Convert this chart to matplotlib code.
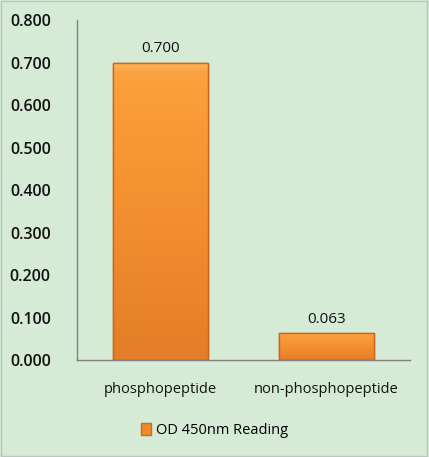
import matplotlib
matplotlib.use("Agg")
import matplotlib.pyplot as plt
import numpy as np
from matplotlib.colors import LinearSegmentedColormap
from matplotlib.patches import Patch

categories = ["phosphopeptide", "non-phosphopeptide"]
values = [0.700, 0.063]
value_labels = ["0.700", "0.063"]
yticks = [0.0, 0.1, 0.2, 0.3, 0.4, 0.5, 0.6, 0.7, 0.8]
series_name = "OD 450nm Reading"

bg = "#d5ebd6"
fig = plt.figure(figsize=(4.29, 4.57), dpi=100, facecolor=bg)
ax = fig.add_axes([0.180, 0.212, 0.775, 0.744])
ax.set_facecolor(bg)

x = np.arange(len(categories))
bars = ax.bar(x, values, width=0.57, color="#f39232", edgecolor="#cf6e1c", linewidth=1.0, zorder=2)

# vertical gradient inside each bar: light top, darker bottom
cmap = LinearSegmentedColormap.from_list("og", ["#fdb45a", "#fb9e3a", "#f59332", "#ee882e", "#e57c28"])
grad = np.concatenate([np.linspace(0, 0.15, 8), np.linspace(0.2, 1, 248)]).reshape(-1, 1)
for b in bars:
    x0, y0 = b.get_x(), b.get_y()
    w, h = b.get_width(), b.get_height()
    im = ax.imshow(grad, extent=[x0, x0 + w, y0, y0 + h], aspect="auto", cmap=cmap,
                   vmin=0, vmax=1, zorder=2.5, interpolation="bilinear", origin="upper")
    im.set_clip_path(b)
for b in bars:
    ax.bar(b.get_x() + b.get_width() / 2, b.get_height(), width=b.get_width(), fill=False,
           edgecolor="#c9661a", linewidth=1.0, zorder=3)

txt_family = ["Open Sans", "DejaVu Sans"]
for xi, v, lab in zip(x, values, value_labels):
    ax.text(xi, v + 0.016, lab, ha="center", va="bottom", fontsize=11, color="#111111",
            family=txt_family)

ax.set_xlim(-0.5, 1.5)
ax.set_ylim(0, 0.8)
ax.set_yticks(yticks)
ax.set_yticklabels([f"{t:.3f}" for t in yticks], fontsize=11.5, color="#111111",
                   fontweight="semibold", family=txt_family)
ax.set_xticks(x)
ax.set_xticklabels(categories, fontsize=10.5, color="#111111", family=txt_family)
ax.tick_params(axis="y", length=0, pad=19)
ax.tick_params(axis="x", length=0, pad=16)
for s in ["top", "right"]:
    ax.spines[s].set_visible(False)
for s in ["left", "bottom"]:
    ax.spines[s].set_color("#808080")
    ax.spines[s].set_linewidth(1.0)

# legend
handle = Patch(facecolor="#f08a26", edgecolor="#d06a18")
fig.legend([handle], [series_name], loc="center", bbox_to_anchor=(0.5, 0.058), frameon=False,
           handlelength=0.7, handleheight=0.9, handletextpad=0.3,
           prop={"family": "Open Sans", "size": 10.5})

# figure border
fig.patches.append(plt.Rectangle((0.002, 0.003), 0.994, 0.994, transform=fig.transFigure,
                                 fill=False, edgecolor="#b8c8ba", linewidth=1.0))

fig.savefig("out.png", dpi=100, facecolor=bg)
